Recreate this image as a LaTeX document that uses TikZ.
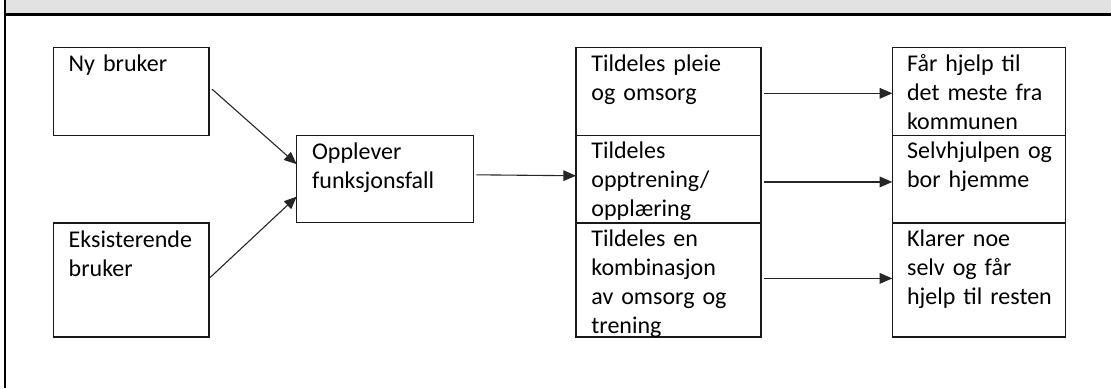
\documentclass[tikz,border=0pt]{standalone}
\usepackage{fontspec}
\setmainfont{Carlito}
\usetikzlibrary{positioning,arrows.meta}
\definecolor{bandgrey}{HTML}{E2E2E2}

\begin{document}
\begin{tikzpicture}[x=0.5pt, y=-0.5pt,
    font=\fontsize{12pt}{14.5pt}\selectfont, >={Triangle[length=6.3pt, width=5.3pt]},
    box/.style={draw=black!90, line width=0.6pt, anchor=north west, inner sep=0pt, outer sep=0pt},
    txt/.style={anchor=base west, align=left, text width=80pt, inner sep=0pt},
    link/.style={->, draw=black!85, line width=0.55pt}]
  \useasboundingbox (0,0) rectangle (1111,388);
  % frame
  \fill[bandgrey] (6,0) rectangle (1111,14);
  \draw[line width=1.2pt] (5,14.5) -- (1111,14.5);
  \draw[line width=1pt] (5,0) -- (5,388);

  % brukere
  \node[box, minimum width=77.85pt, minimum height=44pt] (ny) at (53.3,47.7) {};
  \node[box, minimum width=77.85pt, minimum height=57pt] (eks) at (53.3,223) {};
  \node[box, minimum width=88.3pt, minimum height=43.5pt] (opl) at (296.7,135.7) {};
  % tiltak
  \node[box, minimum width=92.5pt, minimum height=44pt] (pleie) at (576,47.7) {};
  \node[box, minimum width=92.5pt, minimum height=43.65pt, below=0pt of pleie] (trening) {};
  \node[box, minimum width=92.5pt, minimum height=57pt, below=0pt of trening] (kombi) {};
  % utfall
  \node[box, minimum width=86.5pt, minimum height=44pt] (hjelp) at (892.3,47.7) {};
  \node[box, minimum width=86.5pt, minimum height=43.65pt, below=0pt of hjelp] (selv) {};
  \node[box, minimum width=86.5pt, minimum height=57pt, below=0pt of selv] (delvis) {};

  % tekster
  \node[txt] (ny-t) at ([shift={(7.5pt,-12pt)}]ny.north west) {Ny bruker};
  \node[txt] (eks-t) at ([shift={(7.5pt,-12pt)}]eks.north west) {Eksisterende\\bruker};
  \node[txt] (opl-t) at ([shift={(7.5pt,-12pt)}]opl.north west) {Opplever\\funksjonsfall};
  \node[txt] (pleie-t) at ([shift={(7.5pt,-12pt)}]pleie.north west) {Tildeles pleie\\og omsorg};
  \node[txt] (trening-t) at ([shift={(7.5pt,-11.5pt)}]trening.north west) {Tildeles\\opptrening/\\opplæring};
  \node[txt] (kombi-t) at ([shift={(7.5pt,-11.8pt)}]kombi.north west) {Tildeles en\\kombinasjon\\av omsorg og\\trening};
  \node[txt] (hjelp-t) at ([shift={(7.2pt,-12pt)}]hjelp.north west) {Får hjelp til\\det meste fra\\kommunen};
  \node[txt] (selv-t) at ([shift={(7.2pt,-11.5pt)}]selv.north west) {Selvhjulpen og\\bor hjemme};
  \node[txt] (delvis-t) at ([shift={(7.2pt,-11.8pt)}]delvis.north west) {Klarer noe\\selv og får\\hjelp til resten};

  % piler
  \draw[link] ([xshift=1.5pt,yshift=1.3pt]ny.east) -- ([yshift=7.5pt]opl.west);
  \draw[link] ([xshift=0.5pt,yshift=1.2pt]eks.east) -- ([yshift=-8.7pt]opl.west);
  \draw[link] ([xshift=1.5pt,yshift=2.2pt]opl.east) -- ([yshift=1.8pt]trening.west);
  \draw[link] ([xshift=1.6pt,yshift=-0.8pt]pleie.east) -- ([yshift=-0.8pt]hjelp.west);
  \draw[link] ([xshift=1.6pt,yshift=-1.3pt]trening.east) -- ([yshift=-1.3pt]selv.west);
  \draw[link] ([xshift=1.6pt,yshift=0.8pt]kombi.east) -- ([yshift=0.8pt]delvis.west);
\end{tikzpicture}
\end{document}
